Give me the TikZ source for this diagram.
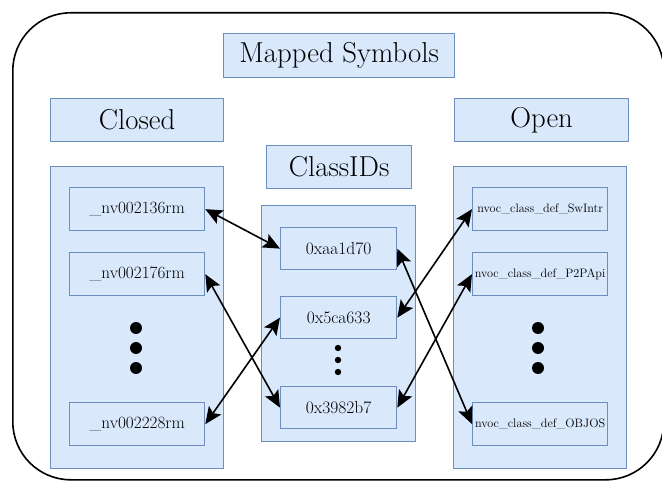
\documentclass[tikz,border=0pt]{standalone}
\usetikzlibrary{arrows.meta}
\definecolor{dfill}{HTML}{DAE8FC}
\definecolor{dline}{HTML}{6C8EBF}
\tikzset{
  bx/.style={draw=dline, fill=dfill, line width=1.3pt, inner sep=0pt, anchor=north west, text=black},
  ttl/.style={bx, font=\fontsize{28.8}{32}\selectfont},
  itm/.style={bx, minimum width=135pt, minimum height=43pt, font=\fontsize{17.2}{20}\selectfont},
  oitm/.style={bx, minimum width=135pt, minimum height=43pt, font=\fontsize{12.2}{15}\selectfont},
  citm/.style={bx, minimum width=116pt, minimum height=42pt, font=\fontsize{17.5}{20}\selectfont},
  arr/.style={{Stealth[length=17pt,width=15pt,inset=3.5pt]}-{Stealth[length=17pt,width=15pt,inset=3.5pt]}, line width=1.6pt},
}
\begin{document}
\begin{tikzpicture}[x=1pt,y=-1pt]
\useasboundingbox (0,0) rectangle (662,481);
% outer frame
\node[draw, line width=1.6pt, rounded corners=58pt, minimum width=651pt, minimum height=467pt, anchor=north west, inner sep=0pt] (outer) at (12,12) {};
% titles
\node[ttl, minimum width=231pt, minimum height=44pt] (mapped) at (223,33) {Mapped Symbols};
\node[ttl, minimum width=173pt, minimum height=43pt] (closedT) at (50,98) {Closed};
\node[ttl, minimum width=174pt, minimum height=43pt] (openT) at (454,98) {Open};
\node[ttl, minimum width=145pt, minimum height=43pt] (classT) at (266,145) {ClassIDs};
% containers
\node[bx, minimum width=173pt, minimum height=302pt] (closedC) at (50,166) {};
\node[bx, minimum width=173pt, minimum height=302pt] (openC) at (453,166) {};
\node[bx, minimum width=154pt, minimum height=236pt] (classC) at (261,205) {};
% closed items
\node[itm] (c1) at (69,187) {\_nv002136rm};
\node[itm] (c2) at (69,252) {\_nv002176rm};
\node[itm] (c3) at (69,402) {\_nv002228rm};
% open items
\node[oitm] (o1) at (472,187) {nvoc\_class\_def\_SwIntr};
\node[oitm] (o2) at (472,252) {nvoc\_class\_def\_P2PApi};
\node[oitm] (o3) at (472,402) {nvoc\_class\_def\_OBJOS};
% class items
\node[citm] (m1) at (280,227) {0xaa1d70};
\node[citm] (m2) at (280,296) {0x5ca633};
\node[citm] (m3) at (280,386) {0x3982b7};
% dots
\foreach \y in {328,348,368} {
  \fill (136,\y) circle (6pt);
  \fill (538,\y) circle (6pt);
}
\foreach \y in {348,360,372} {
  \fill (338,\y) circle (3.2pt);
}
% connectors
\draw[arr] (c1.east) -- (m1.west);
\draw[arr] (c2.east) -- (m3.west);
\draw[arr] (c3.east) -- (m2.west);
\draw[arr] (m2.east) -- (o1.west);
\draw[arr] (m1.east) -- (o3.west);
\draw[arr] (m3.east) -- (o2.west);
\end{tikzpicture}
\end{document}
